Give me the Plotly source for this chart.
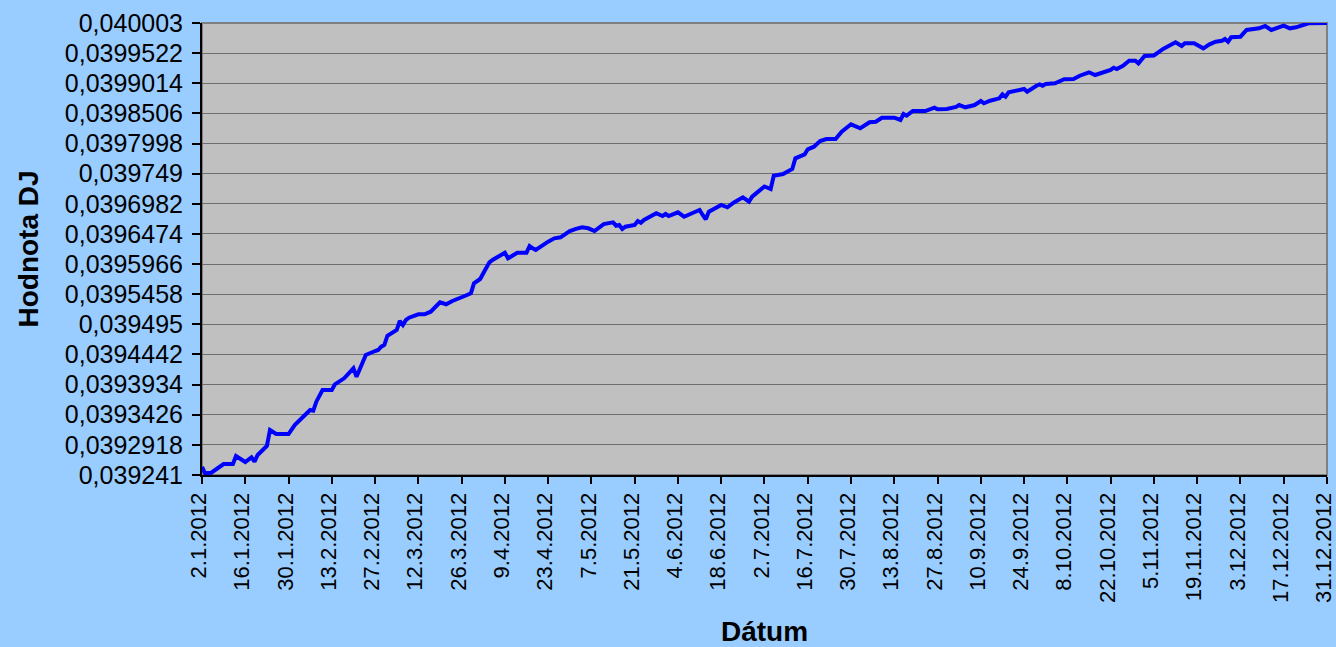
import pandas as pd
import plotly.graph_objects as go

# Day offsets from 2.1.2012 for each traced observation
day_offsets = [
    0, 1, 3, 7, 10, 11, 14, 16, 17, 18, 21, 22, 24, 28, 30, 31, 33, 35, 36, 37,
    39, 42, 43, 46, 49, 50, 53, 56, 57, 58, 59, 60, 63, 64, 65, 66, 67, 70, 72, 74,
    75, 77, 79, 81, 85, 87, 88, 90, 92, 93, 94, 96, 98, 99, 102, 105, 106, 107, 108, 112,
    114, 116, 119, 121, 123, 125, 127, 130, 133, 134, 135, 136, 137, 140, 141, 142, 143, 147, 149, 150,
    151, 154, 156, 158, 161, 162, 163, 164, 166, 168, 170, 172, 175, 177, 178, 179, 182, 184, 185, 188,
    191, 192, 195, 196, 198, 200, 202, 205, 207, 210, 213, 216, 218, 220, 224, 226, 227, 228, 230, 234,
    237, 238, 241, 244, 245, 247, 250, 252, 253, 255, 258, 259, 260, 261, 266, 267, 268, 270, 271, 272,
    273, 276, 279, 282, 284, 287, 289, 291, 294, 295, 296, 298, 300, 302, 303, 305, 308, 311, 314, 315,
    317, 318, 321, 324, 326, 328, 330, 331, 332, 333, 336, 338, 342, 344, 346, 348, 350, 352, 354, 358,
    363, 364,
]

dj_values = [
    0.0392545, 0.0392439, 0.0392449, 0.0392595, 0.0392595, 0.0392730, 0.0392629, 0.0392708, 0.0392634, 0.0392747,
    0.0392899, 0.0393169, 0.0393101, 0.0393101, 0.0393253, 0.0393298, 0.0393405, 0.0393506, 0.0393494, 0.0393646,
    0.0393843, 0.0393843, 0.0393939, 0.0394040, 0.0394209, 0.0394067, 0.0394433, 0.0394500, 0.0394517, 0.0394573,
    0.0394602, 0.0394758, 0.0394854, 0.0395006, 0.0394939, 0.0395023, 0.0395062, 0.0395119, 0.0395119, 0.0395163,
    0.0395220, 0.0395321, 0.0395288, 0.0395343, 0.0395428, 0.0395473, 0.0395642, 0.0395714, 0.0395905, 0.0395996,
    0.0396035, 0.0396102, 0.0396158, 0.0396063, 0.0396158, 0.0396158, 0.0396271, 0.0396232, 0.0396203, 0.0396343,
    0.0396400, 0.0396417, 0.0396523, 0.0396560, 0.0396586, 0.0396569, 0.0396523, 0.0396641, 0.0396670, 0.0396613,
    0.0396625, 0.0396557, 0.0396596, 0.0396625, 0.0396692, 0.0396663, 0.0396709, 0.0396822, 0.0396776, 0.0396810,
    0.0396776, 0.0396839, 0.0396764, 0.0396810, 0.0396877, 0.0396793, 0.0396721, 0.0396849, 0.0396906, 0.0396962,
    0.0396923, 0.0397000, 0.0397092, 0.0397017, 0.0397102, 0.0397142, 0.0397274, 0.0397231, 0.0397456, 0.0397484,
    0.0397569, 0.0397749, 0.0397816, 0.0397901, 0.0397945, 0.0398041, 0.0398074, 0.0398074, 0.0398197, 0.0398322,
    0.0398255, 0.0398356, 0.0398366, 0.0398433, 0.0398433, 0.0398395, 0.0398496, 0.0398467, 0.0398546, 0.0398546,
    0.0398602, 0.0398575, 0.0398580, 0.0398614, 0.0398647, 0.0398609, 0.0398647, 0.0398715, 0.0398676, 0.0398720,
    0.0398760, 0.0398828, 0.0398787, 0.0398862, 0.0398917, 0.0398872, 0.0398912, 0.0398973, 0.0398996, 0.0398973,
    0.0399002, 0.0399013, 0.0399081, 0.0399086, 0.0399141, 0.0399199, 0.0399153, 0.0399192, 0.0399238, 0.0399276,
    0.0399254, 0.0399310, 0.0399394, 0.0399394, 0.0399350, 0.0399474, 0.0399482, 0.0399592, 0.0399688, 0.0399705,
    0.0399642, 0.0399688, 0.0399688, 0.0399603, 0.0399671, 0.0399715, 0.0399731, 0.0399760, 0.0399715, 0.0399789,
    0.0399799, 0.0399912, 0.0399940, 0.0399979, 0.0399912, 0.0399951, 0.0399984, 0.0399940, 0.0399957, 0.0400025,
    0.0400030, 0.0400030,
]

x_tick_labels = [
    "2.1.2012", "16.1.2012", "30.1.2012", "13.2.2012", "27.2.2012", "12.3.2012", "26.3.2012",
    "9.4.2012", "23.4.2012", "7.5.2012", "21.5.2012", "4.6.2012", "18.6.2012", "2.7.2012",
    "16.7.2012", "30.7.2012", "13.8.2012", "27.8.2012", "10.9.2012", "24.9.2012", "8.10.2012",
    "22.10.2012", "5.11.2012", "19.11.2012", "3.12.2012", "17.12.2012", "31.12.2012",
]

y_tick_values = [
    0.039241, 0.0392918, 0.0393426, 0.0393934, 0.0394442, 0.039495, 0.0395458, 0.0395966,
    0.0396474, 0.0396982, 0.039749, 0.0397998, 0.0398506, 0.0399014, 0.0399522, 0.040003,
]
y_tick_labels = [
    "0,039241", "0,0392918", "0,0393426", "0,0393934", "0,0394442", "0,039495", "0,0395458",
    "0,0395966", "0,0396474", "0,0396982", "0,039749", "0,0397998", "0,0398506", "0,0399014",
    "0,0399522", "0,040003",
]

start = pd.Timestamp("2012-01-02")
dates = start + pd.to_timedelta(day_offsets, unit="D")
x_tick_vals = pd.to_datetime(x_tick_labels, format="%d.%m.%Y")

fig = go.Figure()
fig.add_trace(go.Scatter(
    x=dates, y=dj_values, mode="lines",
    line=dict(color="#0000FF", width=4),
    showlegend=False, hoverinfo="skip",
))

font_family = "Liberation Sans, Arial, sans-serif"

fig.update_layout(
    width=1336, height=647,
    paper_bgcolor="#99CCFF",
    plot_bgcolor="#C0C0C0",
    margin=dict(l=202, r=9, t=23, b=172, autoexpand=False),
    font=dict(family=font_family, color="#000000"),
    shapes=[dict(type="rect", xref="paper", yref="paper", x0=0, x1=1, y0=0, y1=1,
                 line=dict(color="#808080", width=2), layer="below")],
)

fig.update_xaxes(
    range=[start, pd.Timestamp("2012-12-31 00:20")],
    tickvals=x_tick_vals, ticktext=x_tick_labels,
    tickangle=-90,
    tickfont=dict(size=22, family=font_family, color="#000000"),
    ticks="outside", ticklen=7, tickwidth=2, tickcolor="#000000",
    ticklabeloverflow="allow", ticklabelshift=-3,
    showline=True, linecolor="#000000", linewidth=2,
    showgrid=False, zeroline=False, automargin=False,
    title=dict(text="<b>Dátum</b>", font=dict(size=28, family=font_family), standoff=22),
)

fig.update_yaxes(
    range=[0.039241, 0.040003],
    tickvals=y_tick_values, ticktext=y_tick_labels,
    tickfont=dict(size=25, family=font_family, color="#000000"),
    ticks="outside", ticklen=8, tickwidth=2, tickcolor="#000000",
    ticklabelstandoff=4,
    showline=True, linecolor="#000000", linewidth=2,
    showgrid=True, gridcolor="#6E6E6E", gridwidth=1,
    zeroline=False, automargin=False,
    title=dict(text="<b>Hodnota DJ</b>", font=dict(size=28, family=font_family), standoff=18),
)

fig.write_html(
    "out.html",
    config={"displayModeBar": False},
    post_script="document.body.style.margin='0';document.body.style.overflow='hidden';",
)
